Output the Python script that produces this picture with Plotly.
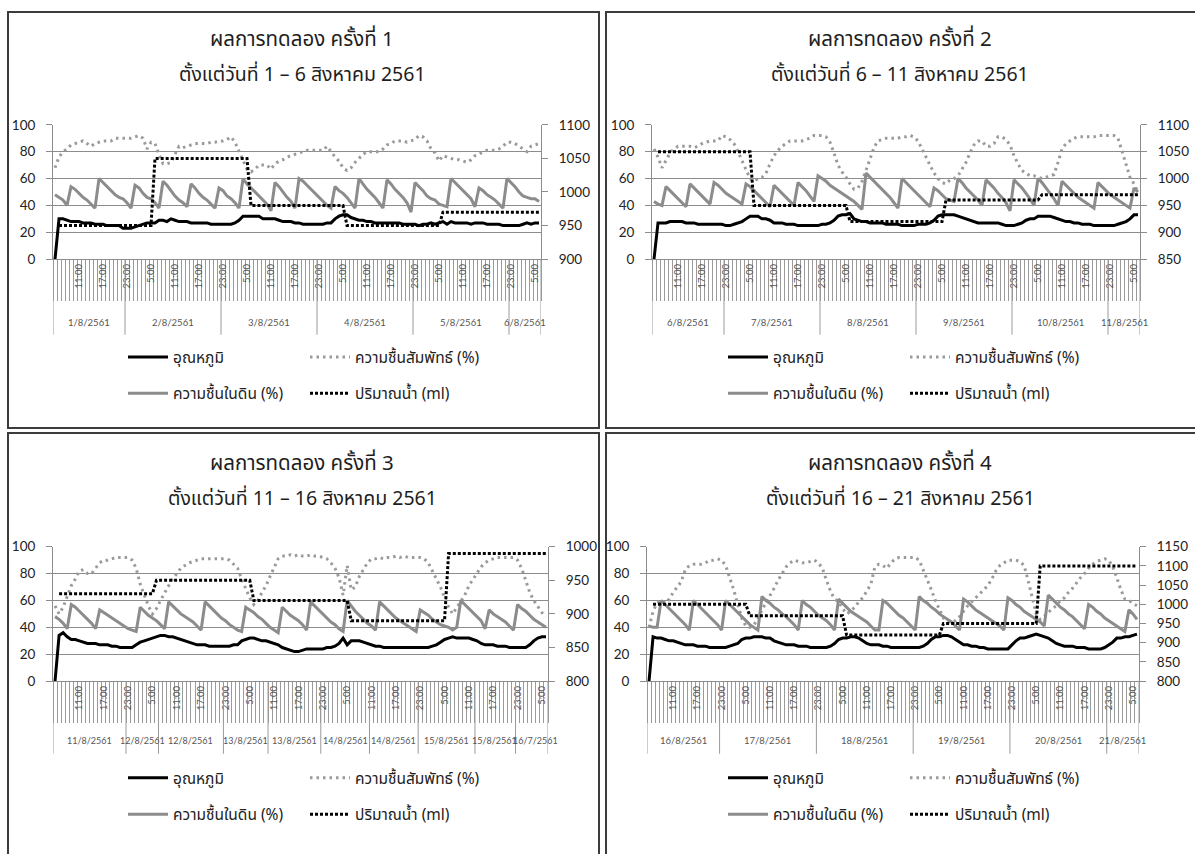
import plotly.graph_objects as go

W, H = 1195, 854

# ---------------- data ----------------
hour_index = list(range(122))  # hourly categories, first one = 5:00 of the first day

time_tick_pos = [6, 12, 18, 24, 30, 36, 42, 48, 54, 60, 66, 72, 78, 84, 90, 96, 102, 108, 114, 120]
time_tick_text = ["11:00", "17:00", "23:00", "5:00", "11:00", "17:00", "23:00", "5:00",
                  "11:00", "17:00", "23:00", "5:00", "11:00", "17:00", "23:00", "5:00",
                  "11:00", "17:00", "23:00", "5:00"]

series_names = ["อุณหภูมิ", "ความชื้นสัมพัทธ์ (%)", "ความชื้นในดิน (%)", "ปริมาณน้ำ (ml)"]

titles = [
    ("ผลการทดลอง ครั้งที่ 1", "ตั้งแต่วันที่ 1 – 6 สิงหาคม 2561"),
    ("ผลการทดลอง ครั้งที่ 2", "ตั้งแต่วันที่ 6 – 11 สิงหาคม 2561"),
    ("ผลการทดลอง ครั้งที่ 3", "ตั้งแต่วันที่ 11 – 16 สิงหาคม 2561"),
    ("ผลการทดลอง ครั้งที่ 4", "ตั้งแต่วันที่ 16 – 21 สิงหาคม 2561"),
]

date_labels_1 = ["1/8/2561", "2/8/2561", "3/8/2561", "4/8/2561", "5/8/2561", "6/8/2561"]
date_bounds_1 = [-0.5, 17.5, 41.5, 65.5, 89.5, 113.5, 121.5]
date_labels_2 = ["6/8/2561", "7/8/2561", "8/8/2561", "9/8/2561", "10/8/2561", "11/8/2561"]
date_bounds_2 = [-0.5, 17.5, 41.5, 65.5, 89.5, 113.5, 121.5]
date_labels_3 = ["11/8/2561", "12/8/2561", "12/8/2561", "13/8/2561", "13/8/2561",
                 "14/8/2561", "14/8/2561", "15/8/2561", "15/8/2561", "16/7/2561"]
date_bounds_3 = [-0.5, 17.5, 25.5, 41.5, 52.5, 65.5, 77.5, 89.5, 103.5, 113.5, 121.5]
date_labels_4 = ["16/8/2561", "17/8/2561", "18/8/2561", "19/8/2561", "20/8/2561", "21/8/2561"]
date_bounds_4 = [-0.5, 17.5, 41.5, 65.5, 89.5, 113.5, 121.5]

# ---- panel 1 ----
temp_1 = [0, 30, 30, 29, 28, 28, 28, 27, 27, 27,
          26, 26, 26, 25, 25, 25, 25, 23, 23, 23,
          24, 25, 26, 27, 27, 27, 29, 29, 28, 30,
          29, 28, 28, 28, 27, 27, 27, 27, 27, 26,
          26, 26, 26, 26, 26, 27, 29, 32, 32, 32,
          32, 32, 30, 30, 30, 30, 29, 28, 28, 28,
          27, 27, 26, 26, 26, 26, 26, 26, 27, 27,
          30, 32, 33, 33, 31, 30, 29, 29, 28, 28,
          27, 27, 27, 27, 27, 27, 27, 26, 26, 26,
          26, 25, 26, 26, 27, 26, 27, 28, 26, 28,
          27, 27, 27, 27, 26, 27, 27, 27, 26, 26,
          26, 26, 25, 25, 25, 25, 25, 26, 27, 26,
          27, 27]
rh_1 = [68, 76, 80, 82, 85, 86, 87, 88, 86, 84,
        86, 87, 88, 88, 88, 90, 90, 90, 90, 90,
        91, 92, 90, 82, 87, 86, 78, 71, 71, 72,
        78, 84, 83, 84, 85, 86, 86, 86, 86, 87,
        87, 88, 88, 89, 91, 87, 80, 74, 67, 65,
        67, 70, 70, 70, 67, 71, 73, 74, 76, 77,
        78, 79, 80, 81, 81, 81, 81, 81, 84, 80,
        76, 73, 68, 66, 68, 72, 75, 78, 80, 80,
        80, 80, 82, 85, 86, 88, 88, 88, 87, 88,
        89, 92, 91, 88, 82, 79, 73, 77, 76, 75,
        74, 74, 73, 72, 74, 77, 78, 80, 81, 81,
        81, 82, 84, 87, 87, 86, 84, 82, 80, 84,
        85, 86]
soil_1 = [48, 46, 44, 40, 54, 52, 49, 46, 44, 41,
          38, 60, 57, 54, 51, 48, 46, 45, 42, 38,
          55, 53, 49, 46, 45, 42, 38, 58, 55, 51,
          47, 44, 42, 39, 56, 53, 49, 46, 44, 41,
          38, 53, 51, 47, 45, 42, 38, 60, 56, 53,
          50, 47, 44, 41, 36, 57, 54, 50, 46, 43,
          38, 60, 58, 55, 52, 49, 46, 43, 40, 38,
          54, 51, 49, 46, 42, 38, 60, 56, 52, 49,
          46, 42, 38, 59, 56, 52, 49, 46, 42, 35,
          57, 54, 51, 47, 45, 44, 41, 40, 39, 60,
          57, 54, 51, 48, 45, 39, 53, 51, 48, 46,
          44, 41, 38, 60, 57, 54, 50, 47, 46, 45,
          45, 43]
water_1 = [None, 950, 950, 950, 950, 950, 950, 950, 950, 950, 950, 950,
           950, 950, 950, 950, 950, 950, 950, 950, 950, 950, 950, 950,
           950, 1050, 1050, 1050, 1050, 1050, 1050, 1050, 1050, 1050, 1050, 1050,
           1050, 1050, 1050, 1050, 1050, 1050, 1050, 1050, 1050, 1050, 1050, 1050,
           1050, 980, 980, 980, 980, 980, 980, 980, 980, 980, 980, 980,
           980, 980, 980, 980, 980, 980, 980, 980, 980, 980, 980, 980,
           980, 950, 950, 950, 950, 950, 950, 950, 950, 950, 950, 950,
           950, 950, 950, 950, 950, 950, 950, 950, 950, 950, 950, 950,
           950, 970, 970, 970, 970, 970, 970, 970, 970, 970, 970, 970,
           970, 970, 970, 970, 970, 970, 970, 970, 970, 970, 970, 970,
           970, 970]

# ---- panel 2 ----
temp_2 = [0, 27, 27, 27, 28, 28, 28, 28, 27, 27,
          27, 26, 26, 26, 26, 26, 26, 26, 25, 25,
          26, 27, 28, 30, 32, 32, 32, 30, 30, 29,
          27, 27, 27, 26, 26, 26, 25, 25, 25, 25,
          25, 25, 26, 26, 27, 29, 32, 33, 33, 34,
          30, 29, 28, 28, 27, 27, 27, 27, 26, 26,
          26, 26, 25, 25, 25, 25, 26, 26, 26, 27,
          29, 32, 33, 33, 33, 33, 32, 31, 30, 29,
          28, 27, 27, 27, 27, 27, 27, 26, 25, 25,
          25, 26, 27, 29, 30, 30, 32, 32, 32, 32,
          31, 30, 29, 28, 28, 27, 27, 26, 26, 26,
          25, 25, 25, 25, 25, 25, 26, 27, 28, 30,
          33, 33]
rh_2 = [82, 76, 68, 73, 79, 82, 84, 84, 84, 84,
        83, 84, 86, 87, 88, 88, 88, 92, 91, 89,
        86, 80, 73, 66, 60, 58, 60, 61, 64, 71,
        77, 81, 84, 86, 88, 88, 88, 88, 89, 90,
        92, 92, 92, 91, 87, 79, 70, 65, 61, 56,
        52, 53, 58, 66, 75, 83, 88, 89, 90, 90,
        90, 90, 91, 91, 92, 91, 88, 82, 75, 70,
        64, 60, 57, 56, 59, 60, 62, 67, 72, 79,
        85, 88, 88, 84, 84, 86, 91, 91, 89, 85,
        77, 71, 66, 64, 62, 62, 61, 60, 61, 62,
        63, 72, 82, 86, 88, 90, 91, 91, 91, 91,
        91, 92, 92, 92, 92, 92, 90, 80, 70, 61,
        56, 50]
soil_2 = [43, 41, 40, 54, 51, 48, 45, 42, 39, 56,
          53, 50, 47, 44, 41, 57, 55, 52, 49, 47,
          45, 43, 41, 56, 54, 51, 48, 45, 42, 39,
          55, 52, 49, 46, 43, 40, 57, 54, 51, 47,
          43, 62, 60, 58, 55, 53, 51, 49, 47, 45,
          43, 40, 37, 64, 61, 58, 55, 52, 49, 46,
          42, 38, 60, 57, 54, 51, 48, 45, 42, 39,
          53, 51, 48, 45, 44, 43, 60, 57, 53, 50,
          47, 44, 40, 59, 56, 53, 49, 46, 42, 36,
          59, 56, 53, 49, 45, 40, 60, 57, 53, 49,
          45, 40, 58, 55, 52, 49, 46, 44, 42, 40,
          38, 57, 54, 51, 48, 46, 44, 42, 40, 38,
          53, 50]
water_2 = [None, 1050, 1050, 1050, 1050, 1050, 1050, 1050, 1050, 1050, 1050, 1050,
           1050, 1050, 1050, 1050, 1050, 1050, 1050, 1050, 1050, 1050, 1050, 1050,
           1050, 950, 950, 950, 950, 950, 950, 950, 950, 950, 950, 950,
           950, 950, 950, 950, 950, 950, 950, 950, 950, 950, 950, 950,
           950, 920, 920, 920, 920, 920, 920, 920, 920, 920, 920, 920,
           920, 920, 920, 920, 920, 920, 920, 920, 920, 920, 920, 920,
           920, 960, 960, 960, 960, 960, 960, 960, 960, 960, 960, 960,
           960, 960, 960, 960, 960, 960, 960, 960, 960, 960, 960, 960,
           960, 970, 970, 970, 970, 970, 970, 970, 970, 970, 970, 970,
           970, 970, 970, 970, 970, 970, 970, 970, 970, 970, 970, 970,
           970, 970]

# ---- panel 3 ----
temp_3 = [0, 34, 36, 33, 31, 31, 30, 29, 28, 28,
          28, 27, 27, 27, 26, 26, 25, 25, 25, 25,
          27, 29, 30, 31, 32, 33, 34, 34, 33, 33,
          32, 31, 30, 29, 28, 27, 27, 27, 26, 26,
          26, 26, 26, 26, 27, 27, 30, 31, 32, 32,
          31, 30, 30, 29, 28, 27, 25, 24, 23, 22,
          22, 23, 24, 24, 24, 24, 24, 25, 25, 26,
          28, 32, 27, 30, 30, 30, 29, 28, 27, 26,
          26, 25, 25, 25, 25, 25, 25, 25, 25, 25,
          25, 25, 25, 26, 27, 29, 31, 32, 33, 32,
          32, 32, 32, 31, 30, 28, 27, 27, 27, 26,
          26, 26, 25, 25, 25, 25, 25, 27, 30, 32,
          33, 33]
rh_3 = [56, 50, 55, 63, 71, 76, 82, 83, 80, 80,
        84, 88, 90, 90, 91, 92, 92, 92, 92, 90,
        84, 72, 64, 56, 50, 54, 60, 66, 71, 76,
        80, 84, 86, 88, 89, 90, 91, 91, 91, 91,
        91, 91, 91, 90, 87, 84, 76, 69, 62, 57,
        60, 66, 71, 78, 85, 91, 93, 93, 94, 93,
        94, 93, 93, 94, 93, 93, 92, 91, 88, 84,
        77, 64, 86, 68, 70, 78, 83, 88, 91, 91,
        92, 91, 92, 92, 93, 92, 93, 92, 92, 92,
        92, 91, 88, 82, 76, 70, 62, 55, 50, 55,
        60, 64, 71, 76, 81, 85, 88, 90, 91, 92,
        92, 92, 92, 92, 90, 84, 75, 66, 60, 55,
        51, 48]
soil_3 = [48, 46, 43, 39, 57, 55, 52, 49, 46, 43,
          39, 53, 51, 49, 47, 45, 43, 41, 39, 38,
          37, 55, 52, 49, 47, 45, 42, 39, 59, 56,
          53, 50, 48, 46, 44, 41, 38, 59, 56, 53,
          50, 47, 45, 42, 40, 38, 37, 55, 53, 51,
          48, 46, 43, 40, 38, 36, 55, 52, 49, 47,
          45, 42, 38, 59, 56, 53, 50, 47, 44, 42,
          39, 37, 60, 56, 52, 49, 46, 43, 41, 38,
          59, 56, 53, 50, 47, 45, 43, 41, 39, 37,
          53, 51, 49, 46, 44, 42, 41, 40, 38, 40,
          60, 57, 54, 51, 48, 45, 39, 53, 50, 48,
          46, 44, 41, 38, 57, 54, 52, 49, 46, 44,
          42, 40]
water_3 = [None, 930, 930, 930, 930, 930, 930, 930, 930, 930, 930, 930,
           930, 930, 930, 930, 930, 930, 930, 930, 930, 930, 930, 930,
           930, 950, 950, 950, 950, 950, 950, 950, 950, 950, 950, 950,
           950, 950, 950, 950, 950, 950, 950, 950, 950, 950, 950, 950,
           950, 920, 920, 920, 920, 920, 920, 920, 920, 920, 920, 920,
           920, 920, 920, 920, 920, 920, 920, 920, 920, 920, 920, 920,
           920, 890, 890, 890, 890, 890, 890, 890, 890, 890, 890, 890,
           890, 890, 890, 890, 890, 890, 890, 890, 890, 890, 890, 890,
           890, 990, 990, 990, 990, 990, 990, 990, 990, 990, 990, 990,
           990, 990, 990, 990, 990, 990, 990, 990, 990, 990, 990, 990,
           990, 990]

# ---- panel 4 ----
temp_4 = [0, 33, 32, 32, 31, 30, 30, 29, 28, 27,
          27, 27, 26, 26, 26, 25, 25, 25, 25, 25,
          26, 27, 28, 31, 32, 32, 33, 33, 33, 32,
          32, 30, 29, 28, 27, 27, 27, 26, 26, 26,
          25, 25, 25, 25, 25, 26, 28, 31, 32, 32,
          33, 33, 32, 30, 28, 27, 27, 27, 26, 26,
          25, 25, 25, 25, 25, 25, 25, 25, 26, 28,
          31, 33, 33, 34, 34, 33, 31, 29, 27, 27,
          26, 26, 25, 25, 24, 24, 24, 24, 24, 24,
          27, 30, 32, 32, 33, 34, 35, 34, 33, 32,
          30, 28, 27, 26, 26, 26, 25, 25, 25, 24,
          24, 24, 24, 25, 27, 29, 32, 32, 33, 33,
          34, 35]
rh_4 = [40, 52, 58, 60, 58, 61, 66, 70, 74, 83,
        86, 87, 87, 87, 88, 90, 90, 91, 90, 86,
        77, 68, 57, 47, 41, 40, 42, 46, 53, 58,
        63, 69, 75, 80, 85, 88, 90, 89, 88, 88,
        89, 90, 88, 84, 75, 67, 61, 59, 54, 50,
        52, 55, 59, 62, 67, 72, 85, 87, 86, 84,
        88, 91, 92, 92, 92, 92, 92, 90, 83, 75,
        68, 60, 53, 47, 44, 44, 45, 48, 52, 56,
        59, 62, 65, 68, 71, 76, 82, 86, 88, 90,
        90, 90, 89, 86, 75, 62, 50, 46, 48, 51,
        54, 56, 60, 62, 66, 69, 73, 77, 80, 84,
        87, 89, 90, 91, 90, 85, 77, 68, 61, 60,
        58, 56]
soil_4 = [41, 40, 40, 60, 57, 54, 51, 48, 45, 42,
          38, 60, 57, 54, 51, 48, 45, 42, 38, 60,
          57, 54, 51, 48, 45, 42, 40, 38, 63, 60,
          58, 55, 53, 50, 48, 45, 42, 38, 60, 57,
          55, 52, 49, 47, 45, 42, 38, 61, 58, 55,
          52, 50, 48, 46, 44, 41, 38, 38, 60, 58,
          55, 52, 49, 47, 44, 41, 38, 63, 60, 58,
          55, 53, 50, 48, 46, 44, 41, 38, 61, 59,
          56, 53, 51, 49, 47, 45, 43, 41, 38, 62,
          60, 57, 55, 52, 50, 48, 46, 44, 41, 64,
          61, 58, 55, 53, 50, 48, 45, 42, 39, 57,
          55, 52, 50, 47, 45, 43, 41, 39, 37, 53,
          50, 46]
water_4 = [None, 1000, 1000, 1000, 1000, 1000, 1000, 1000, 1000, 1000, 1000, 1000,
           1000, 1000, 1000, 1000, 1000, 1000, 1000, 1000, 1000, 1000, 1000, 1000,
           1000, 970, 970, 970, 970, 970, 970, 970, 970, 970, 970, 970,
           970, 970, 970, 970, 970, 970, 970, 970, 970, 970, 970, 970,
           970, 920, 920, 920, 920, 920, 920, 920, 920, 920, 920, 920,
           920, 920, 920, 920, 920, 920, 920, 920, 920, 920, 920, 920,
           920, 950, 950, 950, 950, 950, 950, 950, 950, 950, 950, 950,
           950, 950, 950, 950, 950, 950, 950, 950, 950, 950, 950, 950,
           950, 1100, 1100, 1100, 1100, 1100, 1100, 1100, 1100, 1100, 1100, 1100,
           1100, 1100, 1100, 1100, 1100, 1100, 1100, 1100, 1100, 1100, 1100, 1100,
           1100, 1100]

panel_data = [
    (temp_1, rh_1, soil_1, water_1, date_labels_1, date_bounds_1),
    (temp_2, rh_2, soil_2, water_2, date_labels_2, date_bounds_2),
    (temp_3, rh_3, soil_3, water_3, date_labels_3, date_bounds_3),
    (temp_4, rh_4, soil_4, water_4, date_labels_4, date_bounds_4),
]

# ---------------- layout geometry (pixels) ----------------
right_ranges = [(900, 1100), (850, 1100), (800, 1000), (800, 1150)]
panels = [
    dict(px=(53, 541), py=(119, 256), box=(8, 4, 599, 428), tx=302, ty=(32, 68),
         leg_y=(356, 393), leg_x=(123, 305), date_y=320, sep_y=333, date_size=9.5),
    dict(px=(652, 1140), py=(119, 256), box=(606, 4, 1205, 428), tx=900, ty=(32, 68),
         leg_y=(356, 393), leg_x=(723, 905), date_y=320, sep_y=333, date_size=9.5),
    dict(px=(53, 548), py=(549, 686), box=(8, 433, 599, 870), tx=302, ty=(464, 500),
         leg_y=(785, 822), leg_x=(123, 305), date_y=746, sep_y=760, date_size=9),
    dict(px=(647, 1139), py=(549, 686), box=(606, 433, 1205, 870), tx=900, ty=(464, 500),
         leg_y=(785, 822), leg_x=(723, 905), date_y=746, sep_y=760, date_size=9.5),
]
title_sizes = (20.5, 19.5)
# small horizontal nudges (in categories) for crowded date labels of panel 3
date_nudge = {3: {8: -0.3, 9: 0.9}}


def fx(x):
    return x / W


def fy(y):
    return 1 - y / H


THAI = "'Noto Sans Thai', 'Noto Sans Thai UI', Tahoma, 'Noto Sans', 'DejaVu Sans', sans-serif"
NUM = "Lato, 'Noto Sans', 'Liberation Sans', sans-serif"
AXC = "#8c8c8c"

styles = [
    dict(color="#000000", width=3, dash="solid"),
    dict(color="#9a9a9a", width=3, dash="2.5px,4px"),
    dict(color="#8c8c8c", width=3, dash="solid"),
    dict(color="#000000", width=3, dash="3px,2px"),
]

fig = go.Figure()
layout = dict(width=W, height=H, margin=dict(l=0, r=0, t=0, b=0, pad=0),
              paper_bgcolor="white", plot_bgcolor="white", autosize=False)
shapes = []
annotations = []


def sfx(n):
    return "" if n == 1 else str(n)


for k, (p, dat) in enumerate(zip(panels, panel_data), start=1):
    temp, rh, soil, water, dlabels, dbounds = dat
    xid = sfx(k)
    yl = sfx(2 * k - 1)
    yr = sfx(2 * k)
    series = [temp, rh, soil, water]
    for j, vals in enumerate(series):
        n = 4 * (k - 1) + j
        leg = "legend" if n == 0 else f"legend{n + 1}"
        st = styles[j]
        fig.add_trace(go.Scatter(
            x=hour_index, y=vals, mode="lines", name=series_names[j],
            line=dict(color=st["color"], width=st["width"], dash=st["dash"]),
            xaxis="x" + xid, yaxis="y" + (yr if j == 3 else yl),
            legend=leg, showlegend=True, connectgaps=False, hoverinfo="skip"))
        row = 0 if j < 2 else 1
        col = j % 2
        layout[leg] = dict(
            x=fx(p["leg_x"][col]), y=fy(p["leg_y"][row]), xanchor="left", yanchor="middle",
            orientation="h", bgcolor="rgba(0,0,0,0)", borderwidth=0, itemwidth=40,
            font=dict(family=THAI, size=15.5, color="#222222"))

    xdom = [fx(p["px"][0]), fx(p["px"][1])]
    ydom = [fy(p["py"][1]), fy(p["py"][0])]
    layout["xaxis" + xid] = dict(
        domain=xdom, anchor="y" + yl, range=[-0.5, 121.5], showgrid=False, zeroline=False,
        showline=True, linecolor=AXC, linewidth=1,
        tickmode="array", tickvals=time_tick_pos, ticktext=time_tick_text, ticks="",
        tickangle=-90, tickfont=dict(family=NUM, size=9.5, color="#555555"),
        minor=dict(ticks="outside", ticklen=41, tickcolor="#9a9a9a", tickwidth=1,
                   tickmode="linear", tick0=-0.5, dtick=1, showgrid=False))
    layout["yaxis" + yl] = dict(
        domain=ydom, anchor="x" + xid, range=[0, 100], tickmode="linear", tick0=0, dtick=20,
        showgrid=True, gridcolor=AXC, gridwidth=1, zeroline=False,
        showline=True, linecolor=AXC, ticks="outside", ticklen=6, tickcolor=AXC,
        ticklabelstandoff=8, tickfont=dict(family=NUM, size=13.5, color="#222222"))
    lo, hi = right_ranges[k - 1]
    layout["yaxis" + yr] = dict(
        overlaying="y" + yl, side="right", anchor="x" + xid, range=[lo, hi],
        tickmode="linear", tick0=lo, dtick=50, showgrid=False, zeroline=False,
        showline=True, linecolor=AXC, ticks="outside", ticklen=6, tickcolor=AXC,
        ticklabelstandoff=8, tickfont=dict(family=NUM, size=13.5, color="#222222"))

    # date-group separators and labels
    for b in dbounds:
        shapes.append(dict(type="line", xref="x" + xid, yref="paper", x0=b, x1=b,
                           y0=fy(p["py"][1]), y1=fy(p["sep_y"]),
                           line=dict(color="#9a9a9a", width=1)))
    for i, lab in enumerate(dlabels):
        c = (dbounds[i] + dbounds[i + 1]) / 2 + date_nudge.get(k, {}).get(i, 0)
        annotations.append(dict(x=c, xref="x" + xid, y=fy(p["date_y"]), yref="paper",
                                text=lab, showarrow=False, xanchor="center", yanchor="middle",
                                font=dict(family=NUM, size=p["date_size"], color="#555555")))

    # titles
    for t, ty, ts in zip(titles[k - 1], p["ty"], title_sizes):
        annotations.append(dict(x=fx(p["tx"]), xref="paper", y=fy(ty), yref="paper",
                                text=t, showarrow=False, xanchor="center", yanchor="middle",
                                font=dict(family=THAI, size=ts, color="#1e1e1e")))

    # panel frame
    bx0, by0, bx1, by1 = p["box"]
    shapes.append(dict(type="rect", xref="paper", yref="paper",
                       x0=fx(bx0), x1=fx(bx1), y0=fy(by1), y1=fy(by0),
                       line=dict(color="#3c3c3c", width=2), fillcolor="rgba(0,0,0,0)",
                       layer="below"))

layout["shapes"] = shapes
layout["annotations"] = annotations
fig.update_layout(**layout)
fig.write_html("out.html", config={"displayModeBar": False},
               post_script="document.body.style.margin='0';document.body.style.overflow='hidden';")
